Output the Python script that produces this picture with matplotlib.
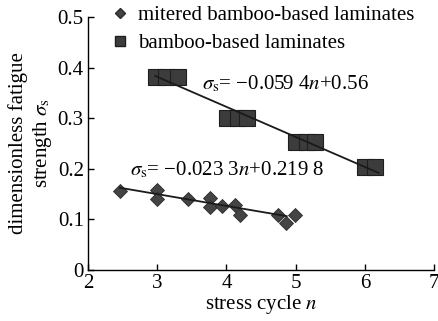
import matplotlib
matplotlib.use("Agg")
import matplotlib.pyplot as plt
from matplotlib.lines import Line2D

plt.rcParams['font.family'] = ['Liberation Serif', 'DejaVu Serif']
plt.rcParams['mathtext.fontset'] = 'stix'

# mitered bamboo-based laminates (diamonds)
mit_n = [2.46, 3.0, 3.0, 3.45, 3.76, 3.76, 3.93, 4.12, 4.2, 4.75, 4.86, 4.99]
mit_s = [0.157, 0.158, 0.140, 0.140, 0.142, 0.124, 0.126, 0.128, 0.109, 0.108, 0.093, 0.109]

# bamboo-based laminates (squares)
bbl_n = [2.98, 3.13, 3.3, 4.01, 4.16, 4.3, 5.0, 5.17, 5.28, 6.0, 6.15]
bbl_s = [0.381, 0.381, 0.381, 0.301, 0.301, 0.301, 0.252, 0.252, 0.252, 0.204, 0.204]

# fitted lines (slope, intercept, n start, n end)
fit_mit = (-0.0233, 0.2198, 2.46, 4.87)
fit_bbl = (-0.0594, 0.56, 2.97, 6.2)

FS = 15

fig = plt.figure(figsize=(4.38, 3.21), dpi=100)
ax = fig.add_axes([0.201, 0.159, 0.790, 0.788])

ax.plot(bbl_n, bbl_s, linestyle='none', marker='s', markersize=11.5,
        markerfacecolor='#3c3c3c', markeredgecolor='#1e1e1e', markeredgewidth=0.8)
ax.plot(mit_n, mit_s, linestyle='none', marker='D', markersize=7.5,
        markerfacecolor='#444444', markeredgecolor='#2a2a2a', markeredgewidth=0.6)

for a, b, x0, x1 in (fit_mit, fit_bbl):
    ax.plot([x0, x1], [a * x0 + b, a * x1 + b], color='#1a1a1a', lw=1.3)

ax.set_xlim(2, 7)
ax.set_ylim(0, 0.5)
ax.set_xticks([2, 3, 4, 5, 6, 7])
ax.set_yticks([0, 0.1, 0.2, 0.3, 0.4, 0.5])
ax.set_xticklabels(['2', '3', '4', '5', '6', '7'])
ax.set_yticklabels(['0', '0.1', '0.2', '0.3', '0.4', '0.5'])
ax.spines['top'].set_visible(False)
ax.spines['right'].set_visible(False)
for s in ('left', 'bottom'):
    ax.spines[s].set_linewidth(1.0)
ax.tick_params(direction='in', length=4, width=1, labelsize=FS, pad=3)

ax.set_xlabel('stress cycle $n$', fontsize=FS, labelpad=0)
ax.set_ylabel('dimensionless fatigue\nstrength $\\sigma_{\\rm s}$', fontsize=FS,
              labelpad=3, linespacing=1.15)

ax.text(3.65, 0.368, '$\\sigma_{\\rm s}$= −0.059 4$n$+0.56', fontsize=FS,
        va='center', ha='left')
ax.text(2.6, 0.197, '$\\sigma_{\\rm s}$= −0.023 3$n$+0.219 8', fontsize=FS,
        va='center', ha='left')

handles = [Line2D([], [], linestyle='none', marker='D', markersize=5,
                  markerfacecolor='#444444', markeredgecolor='#2a2a2a'),
           Line2D([], [], linestyle='none', marker='s', markersize=7,
                  markerfacecolor='#3c3c3c', markeredgecolor='#1e1e1e')]
fig.legend(handles, ['mitered bamboo-based laminates', 'bamboo-based laminates'],
           loc='upper left', bbox_to_anchor=(0.235, 1.008), frameon=False,
           fontsize=FS, handlelength=0.8, handletextpad=0.5, labelspacing=0.38,
           borderaxespad=0)

fig.savefig('out.png', dpi=100)
